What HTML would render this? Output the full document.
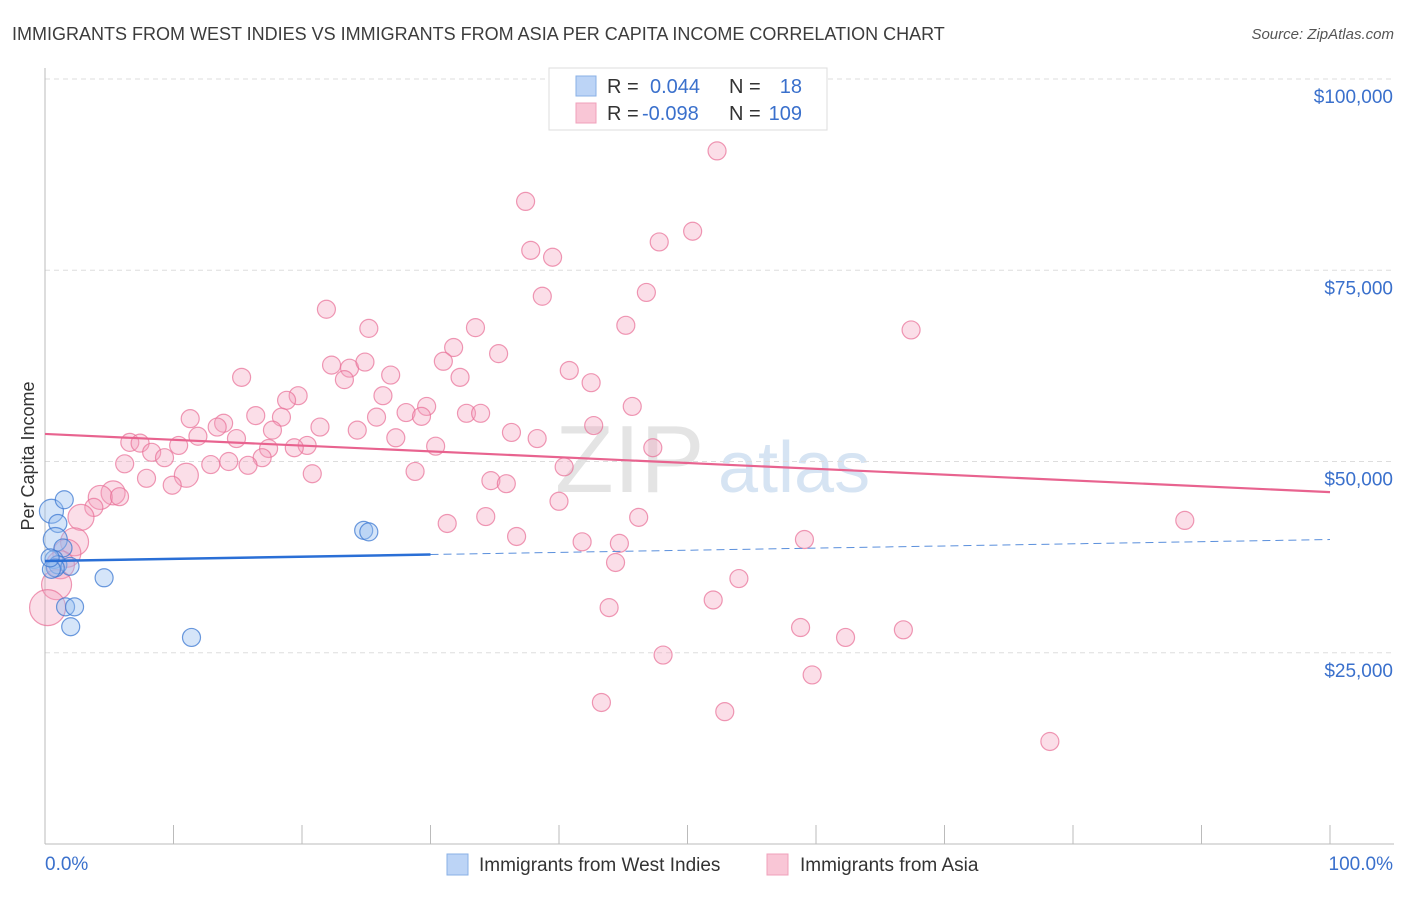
<!DOCTYPE html>
<html><head><meta charset="utf-8"><style>
body{margin:0;background:#fff;font-family:"Liberation Sans",sans-serif;}
svg text{font-family:"Liberation Sans",sans-serif;}
</style></head><body>
<svg id="chart" width="1406" height="892" xmlns="http://www.w3.org/2000/svg">
<text x="12" y="40" font-size="18" fill="#3c3c3c">IMMIGRANTS FROM WEST INDIES VS IMMIGRANTS FROM ASIA PER CAPITA INCOME CORRELATION CHART</text>
<text x="1394" y="39" font-size="15" fill="#555" text-anchor="end" font-style="italic">Source: ZipAtlas.com</text>
<g>
<text x="555" y="492" font-size="96" fill="#e4e4e4" font-family="Liberation Serif">ZIP</text>
<text x="718" y="492" font-size="72" fill="#d6e4f3">atlas</text>
</g>
<g id="grid"></g>
<g id="axes"></g>
<g id="marks"></g>
<text transform="translate(34,456) rotate(-90)" font-size="18" fill="#333" text-anchor="middle">Per Capita Income</text>
<g>
<rect x="549" y="68" width="278" height="62" fill="#fff" stroke="#ddd"/>
<rect x="576" y="76" width="20" height="20" fill="#bcd4f6" stroke="#8ab0e6"/>
<rect x="576" y="103" width="20" height="20" fill="#f9c6d6" stroke="#f0a0bb"/>
<text x="607" y="93" font-size="20" fill="#333">R = </text><text x="650" y="93" font-size="20" fill="#3a70cc">0.044</text>
<text x="729" y="93" font-size="20" fill="#333">N = </text><text x="802" y="93" font-size="20" fill="#3a70cc" text-anchor="end">18</text>
<text x="607" y="120" font-size="20" fill="#333">R = </text><text x="642" y="120" font-size="20" fill="#3a70cc">-0.098</text>
<text x="729" y="120" font-size="20" fill="#333">N = </text><text x="802" y="120" font-size="20" fill="#3a70cc" text-anchor="end">109</text>
</g>
<g>
<rect x="447" y="854" width="21" height="21" fill="#bcd4f6" stroke="#8ab0e6"/>
<text x="479" y="871" font-size="19" fill="#333">Immigrants from West Indies</text>
<rect x="767" y="854" width="21" height="21" fill="#f9c6d6" stroke="#f0a0bb"/>
<text x="800" y="871" font-size="19" fill="#333">Immigrants from Asia</text>
</g>
</svg>
<script>
const yTicks=[25000,50000,75000,100000];
const yTickLabels=["$25,000","$50,000","$75,000","$100,000"];
const xTicks=[0,10,20,30,40,50,60,70,80,90,100];
const blueX=[0.5,1.5,1.0,0.8,1.4,0.7,1.0,1.95,0.8,4.6,1.6,2.3,2.0,11.4,24.8,25.2,0.5,0.4];
const blueY=[43.5,45.0,41.9,39.8,38.7,37.2,36.5,36.3,36.1,34.8,31.0,31.0,28.4,27.0,41.0,40.8,35.9,37.4];
const blueR=[12,9,9,12,9,9,9,9,9,9,9,9,9,9,9,9,9,9];
const pinkX=[52.3,37.4,37.8,39.5,47.8,50.4,38.7,46.8,21.9,25.2,33.5,45.2,67.4,31.8,35.3,22.3,23.7,24.9,31.0,23.3,26.9,32.3,40.8,42.5,15.3,19.7,18.8,26.3,29.7,28.1,29.3,32.8,33.9,25.8,45.7,11.3,13.9,16.4,18.4,21.4,24.3,13.4,42.7,36.3,38.3,27.3,17.7,11.9,14.9,6.6,7.4,10.4,20.4,17.4,19.4,30.4,47.3,8.3,9.3,16.9,14.3,12.9,15.8,6.2,40.4,28.8,20.8,11.0,7.9,9.9,34.7,35.9,5.3,4.3,5.8,3.8,40.0,2.8,34.3,46.2,31.3,88.7,36.7,2.3,41.8,44.7,59.1,1.7,1.2,44.4,0.9,54.0,0.2,43.9,52.0,58.8,62.3,66.8,48.1,59.7,43.3,52.9,78.2];
const pinkY=[90.6,84.0,77.6,76.7,78.7,80.1,71.6,72.1,69.9,67.4,67.5,67.8,67.2,64.9,64.1,62.6,62.2,63.0,63.1,60.7,61.3,61.0,61.9,60.3,61.0,58.6,58.0,58.6,57.2,56.4,55.9,56.3,56.3,55.8,57.2,55.6,55.0,56.0,55.8,54.5,54.1,54.5,54.7,53.8,53.0,53.1,54.1,53.3,53.0,52.5,52.4,52.1,52.1,51.7,51.8,52.0,51.8,51.2,50.5,50.5,50.0,49.6,49.5,49.7,49.3,48.7,48.4,48.2,47.8,46.9,47.5,47.1,45.9,45.3,45.4,44.0,44.8,42.7,42.8,42.7,41.9,42.3,40.2,39.5,39.5,39.3,39.8,38.0,36.5,36.8,33.9,34.7,30.9,30.9,31.9,28.3,27.0,28.0,24.7,22.1,18.5,17.3,13.4];
const pinkR={67:12,72:12,73:12,77:13,83:14,87:14,88:14,90:15,92:18};
const blueTrend=[37.0,39.8];
const pinkTrend=[53.6,46.0];
const NS="http://www.w3.org/2000/svg";
const X0=45,X1=1330,Y0=844,YTOP=79;
function sx(p){return X0+(X1-X0)*p/100;}
function sy(v){return Y0-(Y0-YTOP)*v/100000;}
function mk(tag,attrs,parent){const e=document.createElementNS(NS,tag);for(const k in attrs)e.setAttribute(k,attrs[k]);parent.appendChild(e);return e;}
const grid=document.getElementById('grid'),axes=document.getElementById('axes'),marks=document.getElementById('marks');
yTicks.forEach((t,i)=>{
 const l=mk('line',{x1:X0,x2:1394,y1:sy(t),y2:sy(t),stroke:'#ddd','stroke-dasharray':'5,4'},grid);
 
 
 const tx=mk('text',{x:1393,y:sy(t)+24,'font-size':19,fill:'#3a70cc','text-anchor':'end'},axes);
 tx.textContent=yTickLabels[i];
 
 
});
const ya=mk('line',{x1:X0,x2:X0,y1:68,y2:Y0,stroke:'#bbb'},axes);


const xa=mk('line',{x1:X0,x2:1394,y1:Y0,y2:Y0,stroke:'#bbb'},axes);


xTicks.forEach(t=>{
 const l=mk('line',{x1:sx(t),x2:sx(t),y1:825,y2:Y0,stroke:'#bbb'},axes);
 
 
});
[[0,"0.0%",'start',45],[100,"100.0%",'end',1393]].forEach(a=>{
 const t=mk('text',{x:a[3],y:870,'font-size':19,fill:'#3a70cc','text-anchor':a[2]},axes);
 t.textContent=a[1];
 
 
});
pinkX.forEach((x,i)=>{
 const c=mk('circle',{cx:sx(x),cy:sy(pinkY[i]*1000),r:pinkR[i]||9,fill:'rgba(244,160,190,0.35)',stroke:'rgba(232,110,150,0.7)','stroke-width':1.2},marks);
 
 
});
blueX.forEach((x,i)=>{
 const c=mk('circle',{cx:sx(x),cy:sy(blueY[i]*1000),r:blueR[i],fill:'rgba(150,190,240,0.4)',stroke:'rgba(60,120,210,0.75)','stroke-width':1.2},marks);
 
 
});
const bmid=blueTrend[0]+(blueTrend[1]-blueTrend[0])*0.3;
const bt=mk('line',{x1:sx(0),y1:sy(blueTrend[0]*1000),x2:sx(30),y2:sy(bmid*1000),stroke:'#2a6fd6','stroke-width':2.5},marks);


const bd=mk('line',{x1:sx(30),y1:sy(bmid*1000),x2:sx(100),y2:sy(blueTrend[1]*1000),stroke:'#5a8fdc','stroke-width':1,'stroke-dasharray':'8,5'},marks);


const pt=mk('line',{x1:sx(0),y1:sy(pinkTrend[0]*1000),x2:sx(100),y2:sy(pinkTrend[1]*1000),stroke:'#e8638f','stroke-width':2.2},marks);


</script>
</body></html>
